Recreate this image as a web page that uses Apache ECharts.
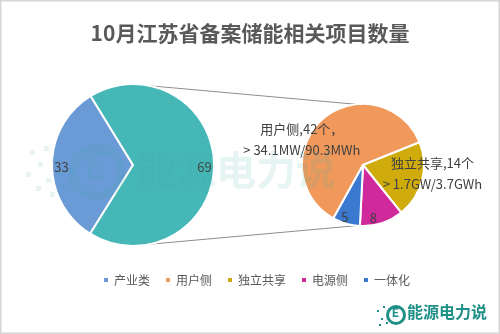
<!DOCTYPE html>
<html>
<head>
<meta charset="utf-8">
<script src="https://cdn.jsdelivr.net/npm/echarts@6/dist/echarts.min.js"></script>
<style>
  html, body { margin: 0; padding: 0; background: #fff; }
  #chart { width: 500px; height: 334px; }
</style>
</head>
<body>
<div id="chart"></div>
<script>
// ---- Data ----
const titleText = '10月江苏省备案储能相关项目数量';
const mainCategories = ['产业类', '其他'];
const mainValues = [33, 69];
const subCategories = ['用户侧', '独立共享', '电源侧', '一体化'];
const subValues = [42, 14, 8, 5];
const subNotes = ['，\n> 34.1MW/90.3MWh', '\n> 1.7GW/3.7GWh', null, null];
const legendItems = ['产业类', '用户侧', '独立共享', '电源侧', '一体化'];
const watermarkText = '能源电力说';

// ---- Styles / layout ----
const mainColors = ['#6a9bd6', '#46b7b7'];
const subColors = ['#f0995b', '#cfac0b', '#d0299c', '#3b78cf'];
const mainLabelOffsets = [[-28, 2], [28, 2]];
const subLabelOffsets = [[-39, 0], [37, 0], [0, 21], [-9, 20]];
const L = { cx: 133, cy: 165, r: 81 };
const R = { cx: 363, cy: 165, r: 61 };

const chart = echarts.init(document.getElementById('chart'), null, { renderer: 'canvas' });

function pt(c, angDeg) {
  const a = angDeg * Math.PI / 180;
  return [c.cx + c.r * Math.cos(a), c.cy - c.r * Math.sin(a)];
}
const tl = pt(L, 78), tr = pt(R, 96), bl = pt(L, -78), br = pt(R, -96);

const labelStyle = { color: '#404040', fontSize: 13, fontFamily: 'Noto Sans CJK SC', lineHeight: 21 };

const mainData = mainCategories.map((n, i) => ({
  name: n, value: mainValues[i],
  itemStyle: { color: mainColors[i] },
  label: { offset: mainLabelOffsets[i] }
}));
const subData = subCategories.map((n, i) => ({
  name: n, value: subValues[i],
  itemStyle: { color: subColors[i] },
  label: { offset: subLabelOffsets[i] }
}));

// watermark dots
const dots = [];
const dotPos = [[30,150],[38,162],[26,172],[46,178],[36,186],[52,158],[58,170],[50,192],[62,184],[44,146]];
dotPos.forEach(p => dots.push({ type: 'rect', shape: { x: p[0], y: p[1], width: 5, height: 5 }, style: { fill: '#3aa7a0', opacity: 0.12 }, z: 100 }));
const smallDots = [[377,310],[381,318],[383,306],[386,322],[379,324]];
smallDots.forEach(p => dots.push({ type: 'rect', shape: { x: p[0], y: p[1], width: 2, height: 2 }, style: { fill: '#1f9088' }, z: 100 }));

chart.setOption({
  animation: false,
  backgroundColor: '#fff',
  title: {
    text: titleText, left: 'center', top: 18,
    textStyle: { fontSize: 21, fontWeight: 'bold', color: '#595959', fontFamily: 'Noto Sans CJK SC' }
  },
  legend: {
    data: legendItems,
    left: 97, top: 269,
    icon: 'rect', itemWidth: 6, itemHeight: 6, itemGap: 14,
    textStyle: { color: '#595959', fontSize: 12, fontFamily: 'Noto Sans CJK SC' }
  },
  graphic: [
    { type: 'rect', shape: { x: 0.75, y: 0.75, width: 498.5, height: 332.5 }, style: { fill: null, stroke: '#d6d6d6', lineWidth: 1.5 }, z: 0 },
    { type: 'line', shape: { x1: tl[0], y1: tl[1], x2: tr[0], y2: tr[1] }, style: { stroke: '#8f8f8f', lineWidth: 1 }, z: 0 },
    { type: 'line', shape: { x1: bl[0], y1: bl[1], x2: br[0], y2: br[1] }, style: { stroke: '#8f8f8f', lineWidth: 1 }, z: 0 },
    // middle watermark
    { type: 'circle', shape: { cx: 97, cy: 172, r: 24 }, style: { fill: null, stroke: '#3aa7a0', lineWidth: 9, opacity: 0.12 }, z: 100 },
    { type: 'text', left: 85, top: 152, style: { text: 'E', fill: '#3aa7a0', opacity: 0.12, font: 'bold 36px Roboto' }, z: 100 },
    { type: 'text', left: 136, top: 150, style: { text: watermarkText, fill: '#3aa7a0', opacity: 0.13, font: 'bold 40px "Noto Sans CJK SC"' }, z: 100 },
    // bottom-right logo
    { type: 'circle', shape: { cx: 396, cy: 315, r: 8.5 }, style: { fill: null, stroke: '#1f9088', lineWidth: 3 }, z: 100 },
    { type: 'text', left: 392, top: 308, style: { text: 'E', fill: '#1f9088', font: 'bold 12px Roboto' }, z: 100 },
    { type: 'text', left: 407, top: 304, style: { text: watermarkText, fill: '#1f9088', font: 'bold 16px "Noto Sans CJK SC"' }, z: 100 }
  ].concat(dots),
  series: [
    {
      type: 'pie',
      center: [L.cx, L.cy], radius: L.r,
      startAngle: 238, clockwise: true,
      avoidLabelOverlap: false,
      itemStyle: { borderColor: '#fff', borderWidth: 2 },
      label: Object.assign({ show: true, position: 'inside', formatter: '{c}' }, labelStyle),
      labelLine: { show: false },
      emphasis: { disabled: true },
      data: mainData
    },
    {
      type: 'pie',
      center: [R.cx, R.cy], radius: R.r,
      startAngle: 241, clockwise: true,
      avoidLabelOverlap: false,
      itemStyle: { borderColor: '#fff', borderWidth: 2 },
      label: Object.assign({
        show: true, position: 'inside', align: 'center',
        formatter: p => {
          const note = subNotes[p.dataIndex];
          return note ? p.name + ',' + p.value + '个' + note : String(p.value);
        }
      }, labelStyle),
      labelLine: { show: false },
      emphasis: { disabled: true },
      data: subData
    }
  ]
});
</script>
</body>
</html>
